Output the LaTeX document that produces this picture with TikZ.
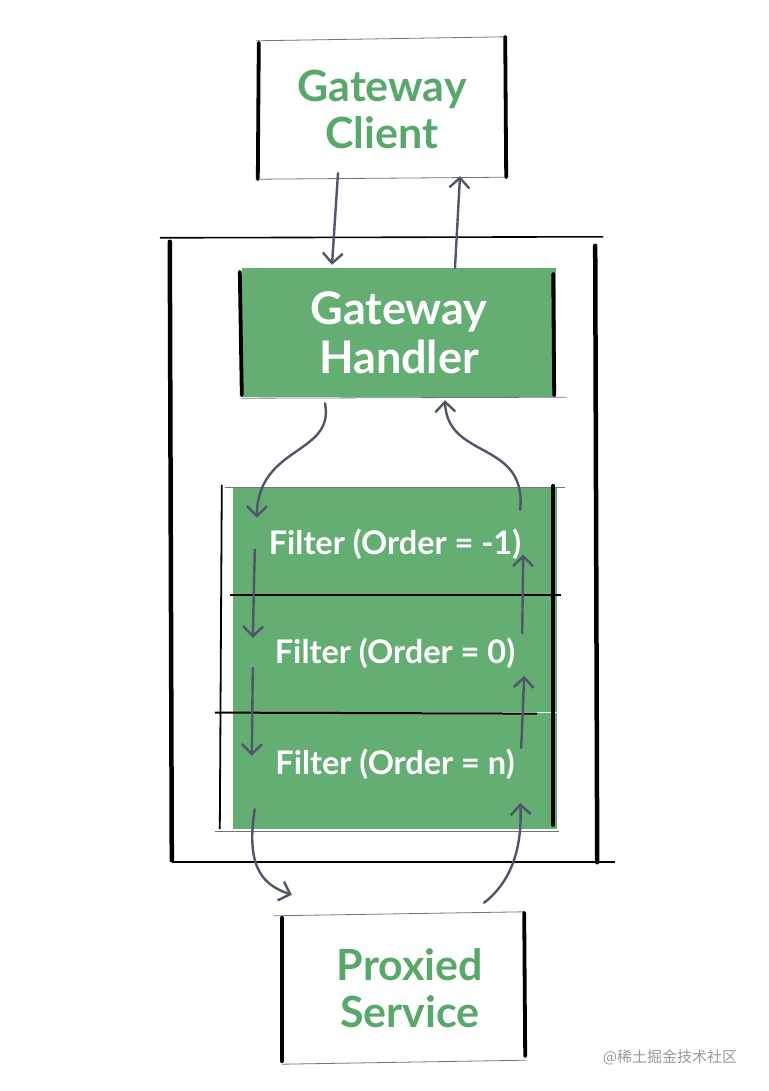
\documentclass[tikz,border=0pt]{standalone}
\usepackage{fontspec}
\setmainfont{Lato}
\newfontfamily\cjkfont{Noto Sans CJK SC}
\usetikzlibrary{arrows.meta, positioning, calc}
\definecolor{gwgreen}{RGB}{100, 174, 116}
\definecolor{labelgreen}{RGB}{88, 168, 108}
\definecolor{arrowslate}{RGB}{80, 86, 106}

\begin{document}
\begin{tikzpicture}[x=1pt, y=-1pt,
  whitebox/.style={minimum width=248pt, minimum height=140pt, align=center, inner sep=0pt, text=labelgreen, font=\fontsize{43}{47}\selectfont\bfseries},
  greenbox/.style={fill=gwgreen, minimum width=314pt, minimum height=129pt, align=center, inner sep=0pt, text=white, font=\fontsize{45}{49}\selectfont\bfseries},
  filterrow/.style={fill=gwgreen, minimum width=324pt, align=center, inner sep=0pt, text=white, font=\fontsize{32.5}{34}\selectfont\bfseries},
  sketchside/.style={line width=3.8pt, line cap=round},
  rim/.style={line width=0.8pt, black!55},
  divider/.style={line width=2pt, black},
  arr/.style={arrowslate, line width=2.4pt, line cap=round, -{Straight Barb[length=10pt, width=20pt, line width=2.4pt]}}
]
  \useasboundingbox (0,0) rectangle (768,1091);

  % container
  \node[minimum width=427pt, minimum height=624pt] (gateway) at (383.5,550) {};
  \draw[line width=1.6pt] ($(gateway.north west)+(-10,0)$) -- ($(gateway.north east)+(6,-1)$);
  \draw[line width=1.6pt] ($(gateway.south west)+(2,0)$) -- ($(gateway.south east)+(18,0)$);
  \draw[sketchside, line width=4.5pt] ($(gateway.north west)+(0,4)$) -- ($(gateway.south west)+(2,-2)$);
  \draw[sketchside, line width=4.5pt] ($(gateway.north east)+(-2,8)$) -- (gateway.south east);

  % boxes
  \node[whitebox] (client) at (382,109) {Gateway\\Client};
  \node[greenbox] (handler) at (399,332.5) {Gateway\\Handler};
  \node[whitebox, minimum width=244pt, minimum height=148pt] (proxied) at (404,988) {\hspace*{12pt}Proxied\\\hspace*{12pt}Service};

  \node[filterrow, minimum height=107pt] (f1) at (395,541.5) {\raisebox{-13pt}[0pt][0pt]{Filter (Order = -1)}};
  \node[filterrow, minimum height=117pt, below=0pt of f1] (f2) {\raisebox{-9.5pt}[0pt][0pt]{Filter (Order = 0)}};
  \node[filterrow, minimum height=116pt, below=0pt of f2] (f3) {\raisebox{-3.5pt}[0pt][0pt]{Filter (Order = n)}};

  % sketch lines
  \draw[rim] ($(client.north west)+(-2,2)$) -- ($(client.north east)+(0,-2)$);
  \draw[rim] ($(client.south west)+(2,0)$) -- ($(client.south east)+(2,-2)$);
  \draw[sketchside] ($(client.north west)+(1,4)$) -- (client.south west);
  \draw[sketchside] ($(client.north east)+(-1,-2)$) -- ($(client.south east)+(0,-2)$);

  \draw[rim] ($(handler.south west)+(0,1)$) -- ($(handler.south east)+(10,0)$);
  \draw[sketchside] ($(handler.north west)+(-2,4)$) -- ($(handler.south west)+(0,-2)$);
  \draw[sketchside] ($(handler.north east)+(-3,6)$) -- ($(handler.south east)+(-2,-2)$);

  \draw[rim] ($(f1.north west)+(-8,0)$) -- ($(f1.north east)+(8,0)$);
  \draw[divider] ($(f1.south west)+(-3,0)$) -- ($(f1.south east)+(4,0)$);
  \draw[divider] ($(f2.south west)+(-18,0)$) -- ($(f2.south east)+(-20,1)$);
  \draw[rim] ($(f3.south west)+(-18,2)$) -- ($(f3.south east)+(2,2)$);
  \draw[line width=1.8pt] ($(f1.north west)+(-11,-3)$) -- ($(f3.south west)+(-13,0)$);
  \draw[sketchside] ($(f1.north east)+(-4,-2)$) -- ($(f3.south east)+(-4,-4)$);

  \draw[rim] ($(proxied.north west)+(-8,2)$) -- ($(proxied.north east)+(-2,-2)$);
  \draw[rim] ($(proxied.south west)+(0,2)$) -- ($(proxied.south east)+(0,-2)$);
  \draw[sketchside] ($(proxied.north west)+(0,4)$) -- ($(proxied.south west)+(0,-1)$);
  \draw[sketchside] ($(proxied.north east)+(-2,-1)$) -- ($(proxied.south east)+(-1,-6)$);

  % request and response flow
  \draw[arr] ($(client.south)+(-44,-6)$) -- ($(handler.north)+(-67,-3)$);
  \draw[arr] ($(handler.north)+(56,0)$) -- ($(client.south)+(78,-3)$);
  \draw[arr] ($(handler.south)+(-74,6)$) .. controls ($(handler.south)+(-64,58)$) and ($(f1.north west)+(25,-43)$) .. ($(f1.north west)+(24,30)$);
  \draw[arr] ($(f1.north east)+(-37,22)$) .. controls ($(f1.north east)+(-30,-48)$) and ($(handler.south)+(48,63)$) .. ($(handler.south)+(46,3)$);

  \draw[arr] ($(f1.west)+(22,8)$) -- ($(f2.west)+(20,-16)$);
  \draw[arr] ($(f2.west)+(20,14)$) -- ($(f3.west)+(19,-15)$);
  \draw[arr] ($(f2.east)+(-35,-21)$) -- ($(f1.east)+(-34,13)$);
  \draw[arr] ($(f3.east)+(-36,-23)$) -- ($(f2.east)+(-33,22)$);

  \draw[arr] ($(f3.south west)+(22,-20)$) .. controls ($(f3.south west)+(12,42)$) and ($(proxied.north west)+(-16,-28)$) .. ($(proxied.north west)+(10,-19)$);
  \draw[arr] ($(proxied.north)+(80,-11)$) .. controls ($(proxied.north)+(111,-35)$) and ($(f3.south east)+(-35,12)$) .. ($(f3.south east)+(-37,-26)$);

  \node[text=black!40, font=\cjkfont\fontsize{15}{15}\selectfont] (watermark) at (670,1057) {@稀土掘金技术社区};
\end{tikzpicture}
\end{document}
